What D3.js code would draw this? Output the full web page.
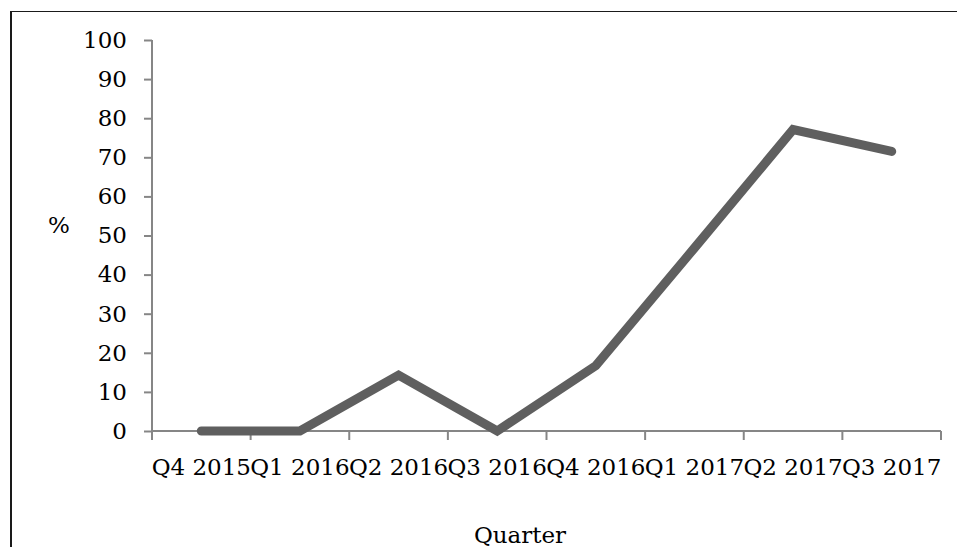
<!DOCTYPE html>
<html>
<head>
<meta charset="utf-8">
<script src="https://cdn.jsdelivr.net/npm/d3@7/dist/d3.min.js"></script>
<style>
  html, body { margin: 0; padding: 0; background: #fff; }
  svg { display: block; }
  text { font-family: "DejaVu Serif", "Liberation Serif", serif; fill: #000; }
</style>
</head>
<body>
<svg id="chart" width="957" height="547"></svg>
<script>
// Quarterly share (%) by quarter
const quarters = ["Q4 2015", "Q1 2016", "Q2 2016", "Q3 2016", "Q4 2016", "Q1 2017", "Q2 2017", "Q3 2017"];
const values = [0, 0, 14.3, 0, 16.7, 46.8, 77.1, 71.5];
const yTicks = [0, 10, 20, 30, 40, 50, 60, 70, 80, 90, 100];

const svg = d3.select("#chart");
const plot = { left: 152, right: 941, top: 40, bottom: 431 };
const fontSize = 23;

// outer frame (left and top edges visible in the view)
svg.append("line").attr("x1", 11).attr("x2", 11).attr("y1", 11).attr("y2", 547)
  .attr("stroke", "#1a1a1a").attr("stroke-width", 2);
svg.append("line").attr("x1", 10).attr("x2", 957).attr("y1", 11.5).attr("y2", 11.5)
  .attr("stroke", "#1a1a1a").attr("stroke-width", 1.2);

const x = d3.scaleBand().domain(quarters).range([plot.left, plot.right]).padding(0);
const y = d3.scaleLinear().domain([0, 100]).range([plot.bottom, plot.top]);
const axisColor = "#868686";

// y axis
const yAxis = svg.append("g")
  .attr("transform", `translate(${plot.left},0)`)
  .call(d3.axisLeft(y).tickValues(yTicks).tickSize(8).tickPadding(17).tickFormat(d3.format("d")));
yAxis.select(".domain").attr("stroke", axisColor).attr("stroke-width", 2)
  .attr("d", `M0,${plot.top}V${plot.bottom}`);
yAxis.selectAll(".tick line").attr("stroke", axisColor).attr("stroke-width", 2);
yAxis.selectAll(".tick text").attr("font-size", fontSize).attr("font-family", "DejaVu Serif").attr("fill", "#000");

// x axis: labels centred in each band, tick marks on band boundaries
const xAxis = svg.append("g")
  .attr("transform", `translate(0,${plot.bottom})`)
  .call(d3.axisBottom(x).tickSize(0));
xAxis.select(".domain").attr("stroke", axisColor).attr("stroke-width", 2)
  .attr("d", `M${plot.left},0H${plot.right}`);
xAxis.selectAll(".tick text")
  .attr("font-size", fontSize).attr("font-family", "DejaVu Serif").attr("fill", "#000")
  .attr("y", 44).attr("dy", 0);

const boundaries = quarters.map(q => x(q)).concat([x(quarters[quarters.length - 1]) + x.bandwidth()]);
xAxis.selectAll(".bound").data(boundaries).join("line")
  .attr("class", "bound")
  .attr("x1", d => d).attr("x2", d => d)
  .attr("y1", 0).attr("y2", 9)
  .attr("stroke", axisColor).attr("stroke-width", 2);

// data line
const line = d3.line()
  .x((d, i) => x(quarters[i]) + x.bandwidth() / 2)
  .y(d => y(d));
svg.append("path")
  .datum(values)
  .attr("d", line)
  .attr("fill", "none")
  .attr("stroke", "#5f5f5f")
  .attr("stroke-width", 9)
  .attr("stroke-linecap", "round")
  .attr("stroke-linejoin", "miter");

// axis titles
svg.append("text").attr("x", 59).attr("y", 233).attr("text-anchor", "middle")
  .attr("font-size", fontSize).text("%");
svg.append("text").attr("x", 520).attr("y", 543).attr("text-anchor", "middle")
  .attr("font-size", fontSize).text("Quarter");
</script>
</body>
</html>
